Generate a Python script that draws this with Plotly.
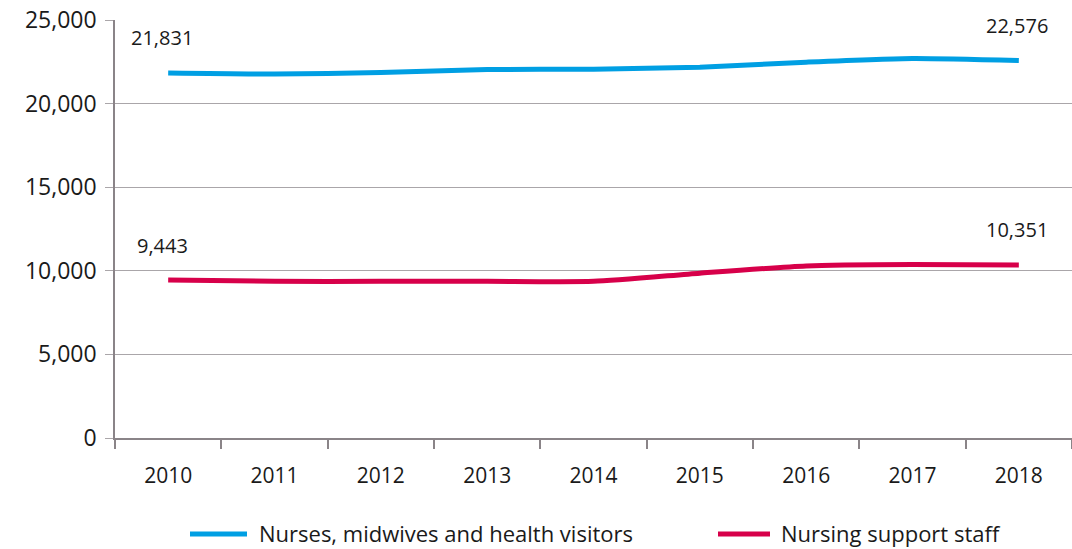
import plotly.graph_objects as go

years = ["2010", "2011", "2012", "2013", "2014", "2015", "2016", "2017", "2018"]
nurses = [21831, 21770, 21860, 22040, 22060, 22180, 22480, 22700, 22576]
support = [9443, 9370, 9370, 9370, 9370, 9860, 10290, 10370, 10351]
series_names = ["Nurses, midwives and health visitors", "Nursing support staff"]
colors = ["#009FE3", "#D7004A"]
y_ticks = [0, 5000, 10000, 15000, 20000, 25000]
y_tick_labels = ["0", "5,000", "10,000", "15,000", "20,000", "25,000"]

FONT = "Open Sans"
TXT = "#1a1a1a"
W, H = 1072, 549
ML, MR, MT, MB = 115, 0, 20, 111
PW, PH = W - ML - MR, H - MT - MB


def px_x(px):
    return (px - ML) / PW


def px_y(py):
    return (H - MB - py) / PH


fig = go.Figure()
for name, vals, col in zip(series_names, [nurses, support], colors):
    fig.add_trace(go.Scatter(
        x=list(range(len(years))), y=vals, name=name, mode="lines",
        line=dict(color=col, width=5, shape="spline", smoothing=0.6),
        hoverinfo="skip", showlegend=False,
    ))

# end labels (first and last values)
for vals in [nurses, support]:
    for i in [0, len(vals) - 1]:
        fig.add_annotation(
            x=i, y=vals[i], xref="x", yref="y",
            text=f"{vals[i]:,}", showarrow=False, yshift=35,
            xshift=-6 if i == 0 else -2,
            font=dict(family=FONT, size=20, color=TXT),
        )

# manual legend
legend_items = [(190, 247, 258), (718, 770, 780)]
for (x0, x1, xt), name, col in zip(legend_items, series_names, colors):
    fig.add_shape(type="line", xref="paper", yref="paper",
                  x0=px_x(x0), x1=px_x(x1), y0=px_y(534), y1=px_y(534),
                  line=dict(color=col, width=5))
    fig.add_annotation(x=px_x(xt), y=px_y(533), xref="paper", yref="paper",
                       text=name, showarrow=False, xanchor="left", yanchor="middle",
                       borderpad=0,
                       font=dict(family=FONT, size=22, color=TXT))

fig.update_layout(
    width=W, height=H,
    margin=dict(l=ML, r=MR, t=MT, b=MB),
    plot_bgcolor="white", paper_bgcolor="white",
    font=dict(family=FONT, size=20, color=TXT),
    showlegend=False,
    xaxis=dict(
        showgrid=False, showline=True, linecolor="#8a8488",
        linewidth=1.5, ticks="outside", ticklen=9,
        tickcolor="#8a8488", tickwidth=1.5,
        tickvals=[i - 0.5 for i in range(len(years) + 1)],
        ticktext=[""] * (len(years) + 1),
        range=[-0.5, len(years) - 0.5], zeroline=False, automargin=False,
    ),
    xaxis2=dict(
        overlaying="x", matches="x", side="bottom", showgrid=False, showline=False,
        tickvals=list(range(len(years))), ticktext=years, ticks="",
        tickfont=dict(family=FONT, size=21, color=TXT), ticklabelstandoff=23,
        zeroline=False, automargin=False, anchor="y",
    ),
    yaxis=dict(
        range=[0, 25000], tickvals=y_ticks, ticktext=y_tick_labels,
        showgrid=True, gridcolor="#aaa6a9", gridwidth=1.2,
        showline=True, linecolor="#8a8488", linewidth=1.5,
        ticks="outside", ticklen=8, tickcolor="#aaa6a9", tickwidth=1.2,
        tickfont=dict(family=FONT, size=23, color=TXT), ticklabelstandoff=4,
        zeroline=False, automargin=False,
    ),
)
# invisible trace to activate the label axis
fig.add_trace(go.Scatter(x=[0], y=[None], xaxis="x2", yaxis="y",
                         showlegend=False, hoverinfo="skip"))

fig.write_html("out.html", config={"displayModeBar": False})

# remove the default page margin so the figure sits at the window's corner
with open("out.html", encoding="utf-8") as f:
    html = f.read()
html = html.replace("<body>", '<body style="margin:0;padding:0;overflow:hidden">', 1)
with open("out.html", "w", encoding="utf-8") as f:
    f.write(html)
